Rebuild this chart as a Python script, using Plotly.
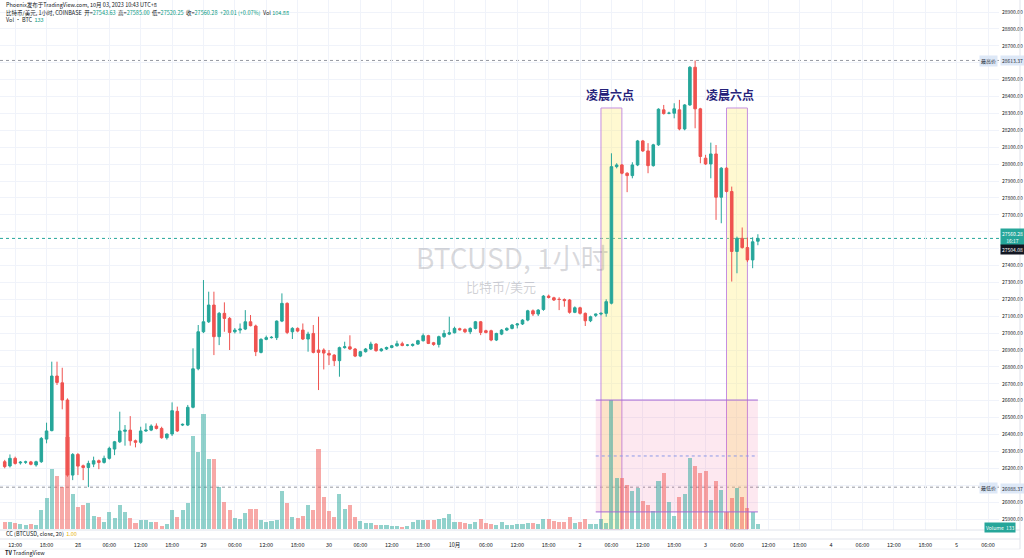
import pandas as pd
import plotly.graph_objects as go

# BTCUSD 1h candles, Coinbase, 2023-09-27 10:00 .. 2023-10-03 10:00 (UTC+8)
start_time = '2023-09-27 10:00'

opens = [
    26239, 26214, 26259, 26232, 26236, 26238, 26220, 26239, 26373, 26423,
    26746, 26706, 26604, 26160, 26282, 26215, 26205, 26225, 26245, 26235,
    26259, 26314, 26357, 26419, 26426, 26363, 26354, 26421, 26426, 26450,
    26436, 26381, 26403, 26537, 26456, 26456, 26561, 26789, 27008, 27067,
    27166, 26979, 27117, 27087, 27008, 27018, 27024, 27067, 27042, 26886,
    26963, 26973, 26973, 27071, 27176, 27008, 27028, 27018, 26965, 26998,
    26900, 26900, 26880, 26870, 26837, 26914, 26919, 26906, 26864, 26890,
    26906, 26935, 26896, 26906, 26915, 26925, 26937, 26929, 26927, 26935,
    26955, 26985, 26943, 26933, 26979, 26994, 27002, 27026, 27022, 27008,
    27028, 27067, 27014, 27014, 26959, 26994, 27018, 27028, 27048, 27054,
    27077, 27132, 27113, 27140, 27219, 27209, 27200, 27199, 27196, 27123,
    27150, 27117, 27073, 27105, 27113, 27117, 27177, 27985, 27995, 27946,
    27932, 27995, 28137, 28078, 27991, 28114, 28321, 28301, 28301, 28321,
    28208, 28350, 28573, 28327, 28035, 28001, 28060, 27804, 27976, 27838,
    27483, 27561, 27506, 27433, 27543.63,
]
highs = [
    26250, 26282, 26269, 26243, 26245, 26244, 26245, 26385, 26470, 26831,
    26831, 26795, 26614, 26290, 26290, 26222, 26245, 26269, 26252, 26275,
    26328, 26362, 26535, 26456, 26509, 26370, 26446, 26466, 26460, 26466,
    26446, 26405, 26590, 26565, 26465, 26575, 26910, 27048, 27314, 27245,
    27245, 27125, 27182, 27095, 27030, 27057, 27136, 27107, 27050, 26970,
    26985, 26982, 27075, 27235, 27182, 27035, 27034, 27057, 27008, 27048,
    27097, 26910, 26900, 26875, 26920, 26949, 26987, 26912, 26895, 26912,
    26949, 26941, 26912, 26920, 26930, 26955, 26949, 26935, 26939, 26960,
    26998, 26990, 26948, 26985, 27018, 27097, 27038, 27032, 27028, 27034,
    27072, 27072, 27020, 27020, 27002, 27024, 27034, 27054, 27060, 27082,
    27138, 27140, 27142, 27225, 27228, 27215, 27212, 27205, 27202, 27158,
    27156, 27122, 27103, 27115, 27122, 27200, 28064, 28005, 28000, 27952,
    28011, 28143, 28143, 28124, 28120, 28330, 28350, 28310, 28360, 28380,
    28355, 28580, 28613.37, 28333, 28055, 28127, 28113, 27982, 27982, 27867,
    27571, 27625, 27565, 27567, 27585,
]
lows = [
    26200, 26205, 26222, 26222, 26226, 26218, 26210, 26232, 26348, 26419,
    26693, 26549, 26150, 26130, 26160, 26130, 26088.37, 26207, 26195, 26228,
    26252, 26278, 26350, 26334, 26334, 26324, 26345, 26415, 26420, 26430,
    26375, 26370, 26391, 26415, 26450, 26450, 26555, 26780, 27000, 27060,
    26870, 26929, 27008, 26900, 26998, 26998, 27018, 27040, 26864, 26880,
    26958, 26968, 26959, 27065, 26994, 26965, 27005, 26959, 26890, 26880,
    26663, 26785, 26811, 26805, 26742, 26908, 26900, 26858, 26858, 26885,
    26900, 26890, 26890, 26900, 26910, 26920, 26922, 26922, 26920, 26930,
    26950, 26935, 26925, 26915, 26972, 26988, 26998, 27015, 27000, 26994,
    27022, 26988, 26998, 26952, 26953, 26988, 27012, 27022, 27028, 27048,
    27070, 27101, 27101, 27132, 27205, 27190, 27136, 27156, 27115, 27118,
    27110, 27042, 27065, 27095, 27105, 27097, 27170, 27975, 27940, 27834,
    27916, 27988, 28072, 27946, 27985, 28108, 28293, 28295, 28271, 28200,
    28200, 28345, 28212, 28005, 27995, 27916, 27670, 27650, 27832, 27305,
    27354, 27500, 27420, 27384, 27520,
]
closes = [
    26210, 26259, 26229, 26236, 26238, 26224, 26239, 26377, 26421, 26746,
    26708, 26604, 26160, 26282, 26213, 26205, 26229, 26245, 26235, 26259,
    26318, 26357, 26421, 26426, 26363, 26354, 26421, 26426, 26450, 26436,
    26381, 26403, 26541, 26421, 26460, 26561, 26789, 27008, 27067, 27166,
    26979, 27117, 27087, 27004, 27018, 27024, 27067, 27044, 26890, 26963,
    26973, 26975, 27071, 27176, 27004, 27028, 27012, 26965, 26994, 26886,
    26886, 26882, 26870, 26837, 26914, 26919, 26906, 26864, 26890, 26906,
    26935, 26896, 26906, 26915, 26925, 26937, 26927, 26929, 26933, 26955,
    26985, 26939, 26933, 26979, 26998, 27002, 27028, 27020, 27008, 27028,
    27067, 27004, 27004, 26959, 26998, 27018, 27028, 27048, 27054, 27077,
    27132, 27113, 27136, 27219, 27211, 27196, 27199, 27192, 27123, 27150,
    27117, 27073, 27097, 27113, 27117, 27186, 27985, 27995, 27946, 27932,
    27995, 28137, 28078, 27991, 28114, 28325, 28299, 28301, 28327, 28208,
    28350, 28573, 28327, 28045, 28001, 28060, 27804, 27976, 27838, 27483,
    27561, 27506, 27433, 27540.27, 27560.28,
]
volumes = [
    188, 188, 160, 132, 112, 132, 112, 532, 860, 1680,
    1484, 1184, 2576, 980, 608, 664, 720, 372, 328, 204,
    484, 316, 664, 476, 316, 160, 260, 260, 196, 196,
    92, 132, 532, 328, 532, 736, 2604, 2148, 3220, 1960,
    1960, 1176, 756, 532, 316, 280, 456, 552, 552, 260,
    204, 232, 260, 1064, 720, 344, 316, 364, 664, 532,
    2240, 904, 512, 344, 980, 568, 664, 328, 224, 160,
    160, 112, 112, 112, 92, 84, 64, 84, 188, 260,
    252, 252, 252, 280, 300, 420, 204, 188, 160, 140,
    204, 280, 160, 140, 112, 188, 112, 112, 132, 132,
    176, 160, 132, 280, 280, 224, 204, 188, 328, 160,
    204, 280, 140, 140, 280, 160, 3612, 1420, 1420, 1232,
    1064, 1140, 784, 672, 504, 1344, 1560, 764, 364, 904,
    972, 1980, 1764, 1560, 1624, 812, 1344, 1092, 484, 876,
    1140, 904, 580, 468, 133,
]

tick_times = [
    '2023-09-27 12:00', '2023-09-27 18:00', '2023-09-28 00:00', '2023-09-28 06:00',
    '2023-09-28 12:00', '2023-09-28 18:00', '2023-09-29 00:00', '2023-09-29 06:00',
    '2023-09-29 12:00', '2023-09-29 18:00', '2023-09-30 00:00', '2023-09-30 06:00',
    '2023-09-30 12:00', '2023-09-30 18:00', '2023-10-01 00:00', '2023-10-01 06:00',
    '2023-10-01 12:00', '2023-10-01 18:00', '2023-10-02 00:00', '2023-10-02 06:00',
    '2023-10-02 12:00', '2023-10-02 18:00', '2023-10-03 00:00', '2023-10-03 06:00',
    '2023-10-03 12:00', '2023-10-03 18:00', '2023-10-04 00:00', '2023-10-04 06:00',
    '2023-10-04 12:00', '2023-10-04 18:00', '2023-10-05 00:00', '2023-10-05 06:00',
]
tick_labels = [
    '12:00', '18:00', '28', '06:00', '12:00', '18:00', '29', '06:00',
    '12:00', '18:00', '30', '06:00', '12:00', '18:00', '10月', '06:00',
    '12:00', '18:00', '2', '06:00', '12:00', '18:00', '3', '06:00',
    '12:00', '18:00', '4', '06:00', '12:00', '18:00', '5', '06:00',
]
price_ticks = list(range(25900, 29000, 100))
hidden_price_labels = [28600, 27600, 27500, 26100]  # закрыты плашками

high_price = 28613.37
low_price = 26088.37
last_price = 27560.28
cursor_price = 27504.08

# два интервала "凌晨六点"
six_am_zones = [('2023-10-02 04:00', '2023-10-02 08:00'), ('2023-10-03 04:00', '2023-10-03 08:00')]
six_am_label_x = ['2023-10-02 05:43', '2023-10-03 04:40']

times = pd.date_range(start_time, periods=len(opens), freq='h')

TEAL = '#26a69a'
RED = '#ef5350'
FONT = 'Noto Sans CJK SC, Roboto, Arial'
H_PLOT = 530  # высота области графика в px

def py(px):
    # paper-y для пикселя от верха
    return (H_PLOT - px) / H_PLOT

fig = go.Figure()

vol_colors = ['rgba(38,166,154,0.5)' if c >= o else 'rgba(239,83,80,0.5)'
              for o, c in zip(opens, closes)]
fig.add_trace(go.Bar(
    x=times, y=volumes, marker_color=vol_colors, marker_line_width=0,
    width=0.78 * 3600 * 1000, yaxis='y2', hoverinfo='skip'
))

fig.add_trace(go.Candlestick(
    x=times, open=opens, high=highs, low=lows, close=closes,
    increasing=dict(line=dict(color=TEAL, width=1), fillcolor=TEAL),
    decreasing=dict(line=dict(color=RED, width=1), fillcolor=RED),
    whiskerwidth=0,
))

shapes = []
# жёлтые зоны
for x0, x1 in six_am_zones:
    shapes.append(dict(type='rect', xref='x', yref='y', x0=x0, x1=x1,
                       y0=25835, y1=28332, layer='between',
                       fillcolor='rgba(255,238,120,0.34)',
                       line=dict(color='#c58fe0', width=1)))
# розовый блок объёмов
shapes.append(dict(type='rect', xref='x', yref='y', x0='2023-10-02 03:00', x1='2023-10-03 10:00',
                   y0=25942, y1=26604, layer='between',
                   fillcolor='rgba(240,80,140,0.13)', line=dict(width=0)))
for yv in (25942, 26604):
    shapes.append(dict(type='line', xref='x', yref='y', x0='2023-10-02 03:00', x1='2023-10-03 10:00',
                       y0=yv, y1=yv, line=dict(color='#a56ad6', width=1)))
shapes.append(dict(type='line', xref='x', yref='y', x0='2023-10-02 03:00', x1='2023-10-03 10:00',
                   y0=26273, y1=26273, line=dict(color='#8c9ae8', width=1, dash='dot')))
# линии максимума / минимума / последней цены
for yv, col in ((high_price, '#9598a1'), (low_price, '#9598a1'), (last_price, TEAL)):
    shapes.append(dict(type='line', xref='paper', yref='y', x0=0, x1=1, y0=yv, y1=yv,
                       layer='between', line=dict(color=col, width=1, dash='dot')))
# разделители
for ypx, col in ((530, '#e0e3eb'), (539, '#e0e3eb'), (549, '#eef0f4')):
    shapes.append(dict(type='line', xref='paper', yref='paper', x0=0, x1=1020 / 999,
                       y0=py(ypx), y1=py(ypx), line=dict(color=col, width=1)))
shapes.append(dict(type='line', xref='paper', yref='paper', x0=1020 / 999, x1=1020 / 999,
                   y0=py(0), y1=py(549), line=dict(color='#e0e3eb', width=1)))

annotations = []
for xl in six_am_label_x:
    annotations.append(dict(x=xl, y=28409, xref='x', yref='y', text='<b>凌晨六点</b>',
                            showarrow=False, yanchor='middle',
                            font=dict(size=12, color='#26227a', family=FONT)))

# водяной знак
annotations.append(dict(x=512 / 999, y=py(257), xref='paper', yref='paper', text='BTCUSD, 1小时',
                        showarrow=False, yanchor='middle',
                        font=dict(size=28, color='rgba(120,123,134,0.28)', family=FONT)))
annotations.append(dict(x=501 / 999, y=py(286), xref='paper', yref='paper', text='比特币/美元',
                        showarrow=False, yanchor='middle',
                        font=dict(size=13, color='rgba(120,123,134,0.35)', family=FONT)))

# заголовок и подписи слева
small = dict(size=5.5, color='#131722', family=FONT)

def left_text(text, ypx, x=0.004):
    annotations.append(dict(x=x, y=py(ypx), xref='paper', yref='paper', xanchor='left',
                            yanchor='middle', text=text, showarrow=False, font=small))

g = "<span style='color:#089981'>"
left_text('Phoenix发布于TradingView.com, 10月 03, 2023 10:43 UTC+8', 5)
left_text('比特币/美元, 1小时, COINBASE  开=' + g + '27543.63</span>  高=' + g + '27585.00</span>  低='
          + g + '27520.25</span>  收=' + g + '27560.28  +20.01 (+0.07%)</span>  Vol ' + g + '104.88</span>', 13)
left_text('Vol · BTC  ' + g + '133</span>', 20)
left_text("CC (BTCUSD, close, 20)  <span style='color:#e8b400'>1.00</span>", 534)
left_text('<b>TV</b> TradingView', 553, 0.003)

# плашки на шкале цен
def tag(text, ypx, x, bg, col, anchor='left'):
    annotations.append(dict(x=x, y=py(ypx), xref='paper', yref='paper', xanchor=anchor,
                            yanchor='middle', text=text, showarrow=False, bgcolor=bg, borderpad=1,
                            font=dict(size=5, color=col, family=FONT)))

tag('最高价', 61, 998 / 999, '#dde8f7', '#2a2e39', 'right')
tag('28613.37', 61, 1000 / 999, '#dde8f7', '#2a2e39')
tag('最低价', 488, 998 / 999, '#dde8f7', '#2a2e39', 'right')
tag('26088.37', 488, 1000 / 999, '#dde8f7', '#2a2e39')
tag('27560.28<br>16:17', 237, 1000 / 999, TEAL, 'white')
tag('27504.08', 249, 1000 / 999, '#131722', 'white')
tag('Volume  133', 527, 984 / 999, TEAL, 'white')

fig.update_layout(
    width=1024, height=558,
    margin=dict(l=0, r=25, t=0, b=28, autoexpand=False),
    paper_bgcolor='white', plot_bgcolor='white',
    showlegend=False,
    font=dict(family=FONT, size=6, color='#131722'),
    shapes=shapes, annotations=annotations,
    bargap=0,
    xaxis=dict(
        type='date', range=['2023-09-27 09:06', '2023-10-05 08:06'],
        tickvals=tick_times, ticktext=tick_labels, tickangle=0,
        tickfont=dict(size=5.5, color='#131722'),
        showgrid=True, gridcolor='#f0f3fa', gridwidth=1,
        ticks='', ticklabelstandoff=10, automargin=False,
        rangeslider=dict(visible=False), zeroline=False, showline=False,
    ),
    yaxis=dict(
        side='right', range=[25835, 28971],
        tickvals=price_ticks,
        ticktext=['' if v in hidden_price_labels else '%.2f' % v for v in price_ticks],
        tickfont=dict(size=5, color='#131722'),
        showgrid=True, gridcolor='#f0f3fa', gridwidth=1,
        ticks='', ticklabelstandoff=2, zeroline=False, showline=False, automargin=False,
    ),
    yaxis2=dict(overlaying='y', range=[-28, 14812], visible=False, fixedrange=True),
)

# убираем стандартный отступ body, чтобы график встал в угол окна
fig.write_html('out.html', config={'displayModeBar': False},
               post_script="document.body.style.margin='0';document.body.style.overflow='hidden';")
